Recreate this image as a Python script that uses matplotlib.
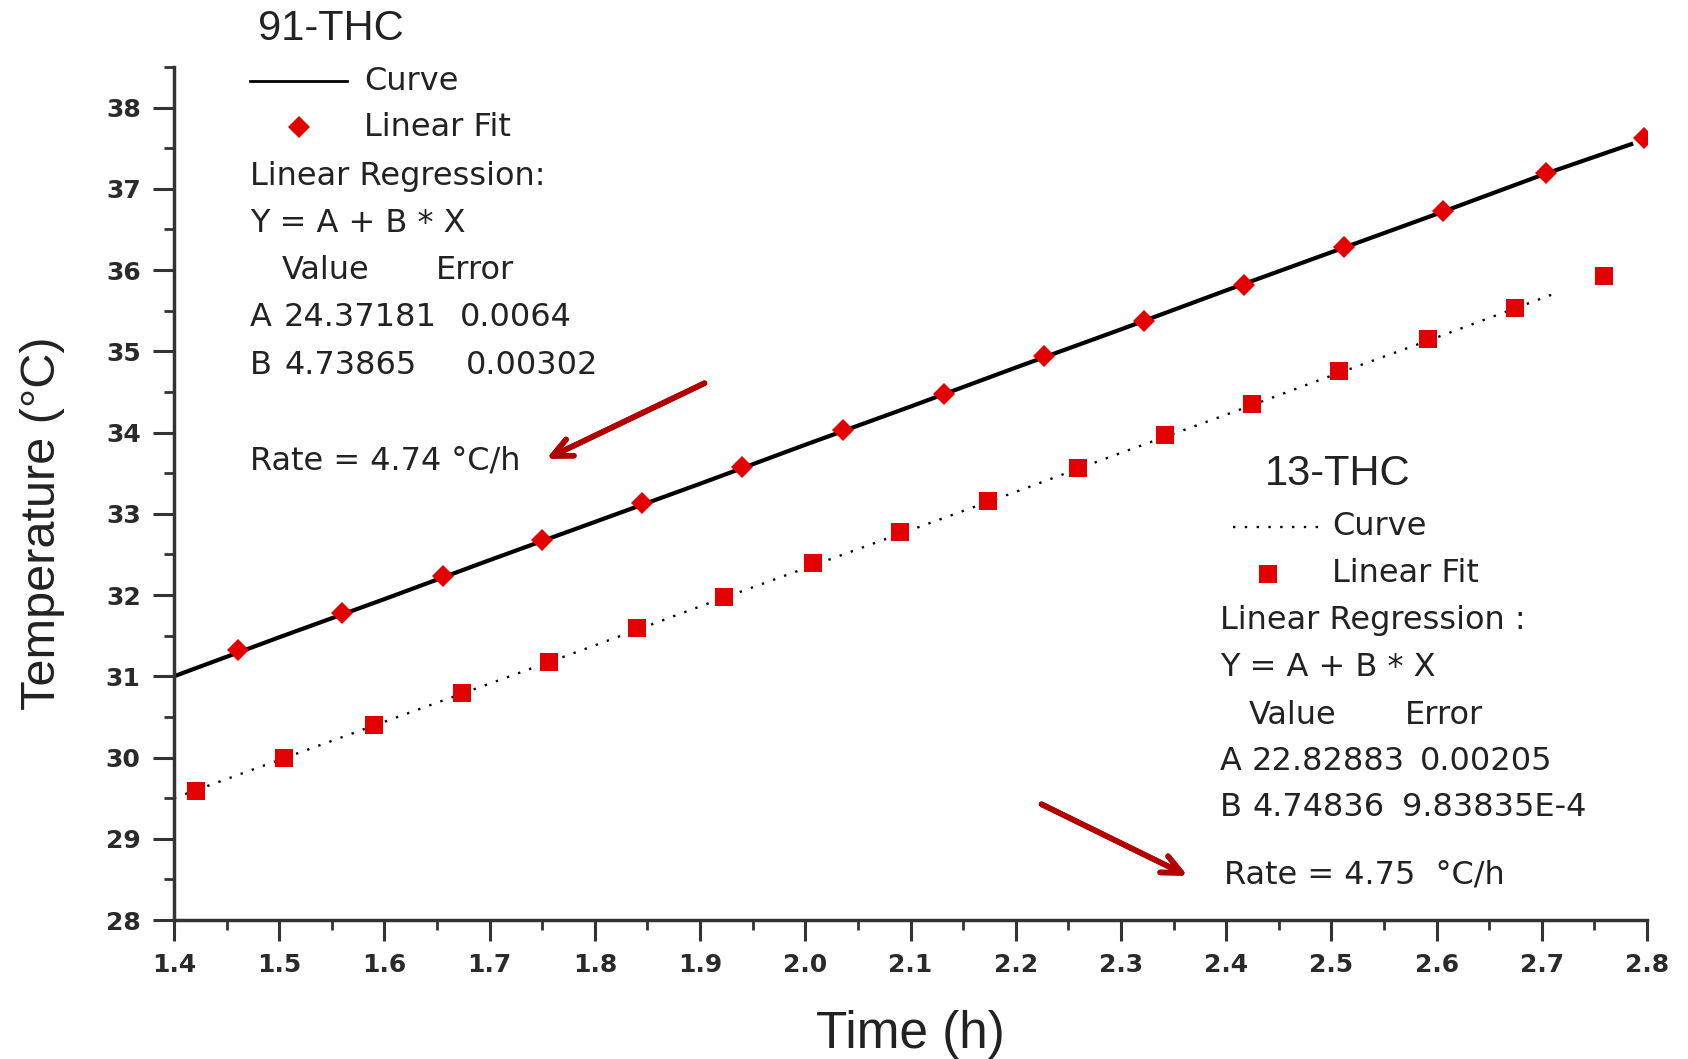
import matplotlib.pyplot as plt
from matplotlib.lines import Line2D
from matplotlib.ticker import MultipleLocator

# 91-THC: measured curve (black) and linear-fit markers (red diamonds)
curve91_time = [1.40, 1.50, 1.60, 1.70, 1.80, 1.90, 2.00, 2.10, 2.20, 2.30, 2.40, 2.50, 2.60, 2.70, 2.785]
curve91_temp = [31.00, 31.48, 31.95, 32.43, 32.90, 33.37, 33.85, 34.32, 34.80, 35.27, 35.75, 36.22, 36.69, 37.17, 37.55]
fit91_time = [1.461, 1.560, 1.656, 1.750, 1.845, 1.940, 2.036, 2.132, 2.227, 2.322, 2.417, 2.512, 2.606, 2.704, 2.797]
fit91_temp = [31.32, 31.78, 32.23, 32.68, 33.13, 33.58, 34.03, 34.47, 34.94, 35.37, 35.82, 36.29, 36.73, 37.19, 37.63]

# 13-THC: measured curve (dotted) and linear-fit markers (red squares)
curve13_time = [1.40, 1.50, 1.60, 1.70, 1.80, 1.90, 2.00, 2.10, 2.20, 2.30, 2.40, 2.50, 2.60, 2.71]
curve13_temp = [29.50, 29.97, 30.44, 30.91, 31.38, 31.86, 32.33, 32.80, 33.27, 33.75, 34.22, 34.70, 35.17, 35.70]
fit13_time = [1.4205, 1.505, 1.590, 1.674, 1.756, 1.840, 1.923, 2.007, 2.090, 2.174, 2.259, 2.342, 2.425, 2.507, 2.592, 2.675, 2.759]
fit13_temp = [29.59, 30.00, 30.40, 30.79, 31.17, 31.59, 31.98, 32.39, 32.77, 33.16, 33.56, 33.97, 34.35, 34.76, 35.15, 35.53, 35.93]

x_ticks = [1.4, 1.5, 1.6, 1.7, 1.8, 1.9, 2.0, 2.1, 2.2, 2.3, 2.4, 2.5, 2.6, 2.7, 2.8]
y_ticks = [28, 29, 30, 31, 32, 33, 34, 35, 36, 37, 38]

RED = "#e30000"
ARROW = "#b30000"
TXT = "#222222"
W, H = 1688, 1059


def fx(x):
    return x / W


def fy(y):
    return 1 - y / H


fig = plt.figure(figsize=(16.88, 10.59), dpi=100)
ax = fig.add_axes([fx(174), fy(920), fx(1647) - fx(174), fy(67) - fy(920)])

ax.plot(curve91_time, curve91_temp, color="black", linewidth=3.0, zorder=2)
ax.plot(fit91_time, fit91_temp, linestyle="none", marker="D", markersize=11,
        color=RED, markeredgewidth=0, zorder=3)
ax.plot(curve13_time, curve13_temp, color="black", linewidth=1.7,
        linestyle=(0, (1, 4)), zorder=2)
ax.plot(fit13_time, fit13_temp, linestyle="none", marker="s", markersize=13,
        color=RED, markeredgewidth=0, zorder=3)

ax.set_xlim(1.4, 2.8)
ax.set_ylim(28, 38.5)
ax.set_xticks(x_ticks)
ax.set_xticklabels([f"{v:.1f}" for v in x_ticks])
ax.set_yticks(y_ticks)
ax.xaxis.set_minor_locator(MultipleLocator(0.05))
ax.yaxis.set_minor_locator(MultipleLocator(0.5))

for side in ["top", "right"]:
    ax.spines[side].set_visible(False)
for side in ["left", "bottom"]:
    ax.spines[side].set_linewidth(2.5)
    ax.spines[side].set_color("#333333")

ax.tick_params(which="major", direction="out", length=15, width=2.2, color="#333333",
               labelsize=18, labelcolor="#2a2a2a", pad=9)
ax.tick_params(which="minor", direction="out", length=7, width=2.0, color="#333333")
for lab in ax.get_xticklabels() + ax.get_yticklabels():
    lab.set_family("DejaVu Sans")
    lab.set_fontweight("bold")

ax.set_xlabel("Time (h)", fontsize=37, family="Liberation Sans", color=TXT)
ax.xaxis.set_label_coords(0.5, -0.105)
ax.set_ylabel("Temperature (°C)", fontsize=35, family="Liberation Sans", color=TXT)
ax.yaxis.set_label_coords(-0.074, 0.465)

# annotation blocks
font_head = dict(family="Liberation Sans", fontsize=30, color=TXT, va="center")
font_box = dict(family="DejaVu Sans", fontsize=23, color=TXT, va="center")

# 91-THC block
fig.text(fx(258), fy(29), "91-THC", **font_head)
fig.add_artist(Line2D([fx(250), fx(347)], [fy(81), fy(81)], color="black", linewidth=2))
fig.text(fx(364), fy(81), "Curve", **font_box)
fig.add_artist(Line2D([fx(299)], [fy(127)], marker="D", markersize=11, color=RED,
                      markeredgewidth=0, linestyle="none"))
fig.text(fx(364), fy(127), "Linear Fit", **font_box)
fig.text(fx(250), fy(177), "Linear Regression:", **font_box)
fig.text(fx(250), fy(223), "Y = A + B * X", **font_box)
fig.text(fx(282), fy(270), "Value", **font_box)
fig.text(fx(436), fy(270), "Error", **font_box)
fig.text(fx(250), fy(318), "A", **font_box)
fig.text(fx(284), fy(318), "24.37181", **font_box)
fig.text(fx(460), fy(318), "0.0064", **font_box)
fig.text(fx(250), fy(365), "B", **font_box)
fig.text(fx(284), fy(365), "4.73865", **font_box)
fig.text(fx(466), fy(365), "0.00302", **font_box)
fig.text(fx(250), fy(461), "Rate = 4.74 °C/h", **font_box)

# 13-THC block
fig.text(fx(1265), fy(474), "13-THC", **font_head)
fig.add_artist(Line2D([fx(1233), fx(1319)], [fy(527), fy(527)], color="black",
                      linewidth=1.7, linestyle=(0, (1, 4))))
fig.text(fx(1332), fy(527), "Curve", **font_box)
fig.add_artist(Line2D([fx(1268)], [fy(574)], marker="s", markersize=13, color=RED,
                      markeredgewidth=0, linestyle="none"))
fig.text(fx(1332), fy(574), "Linear Fit", **font_box)
fig.text(fx(1220), fy(621), "Linear Regression :", **font_box)
fig.text(fx(1220), fy(667), "Y = A + B * X", **font_box)
fig.text(fx(1249), fy(715), "Value", **font_box)
fig.text(fx(1405), fy(715), "Error", **font_box)
fig.text(fx(1220), fy(762), "A", **font_box)
fig.text(fx(1252), fy(762), "22.82883", **font_box)
fig.text(fx(1420), fy(762), "0.00205", **font_box)
fig.text(fx(1220), fy(808), "B", **font_box)
fig.text(fx(1252), fy(808), "4.74836", **font_box)
fig.text(fx(1402), fy(808), "9.83835E-4", **font_box)
fig.text(fx(1224), fy(875), "Rate = 4.75  °C/h", **font_box)

# arrows pointing at the rates
arrow_style = dict(arrowstyle="->, head_length=1.4, head_width=0.65", color=ARROW, lw=4)
fig.add_artist(plt.annotate("", xy=(fx(544), fy(460)), xytext=(fx(707), fy(382)),
                            xycoords="figure fraction", textcoords="figure fraction",
                            arrowprops=arrow_style))
fig.add_artist(plt.annotate("", xy=(fx(1190), fy(877)), xytext=(fx(1039), fy(803)),
                            xycoords="figure fraction", textcoords="figure fraction",
                            arrowprops=arrow_style))

fig.savefig("out.png", dpi=100)
